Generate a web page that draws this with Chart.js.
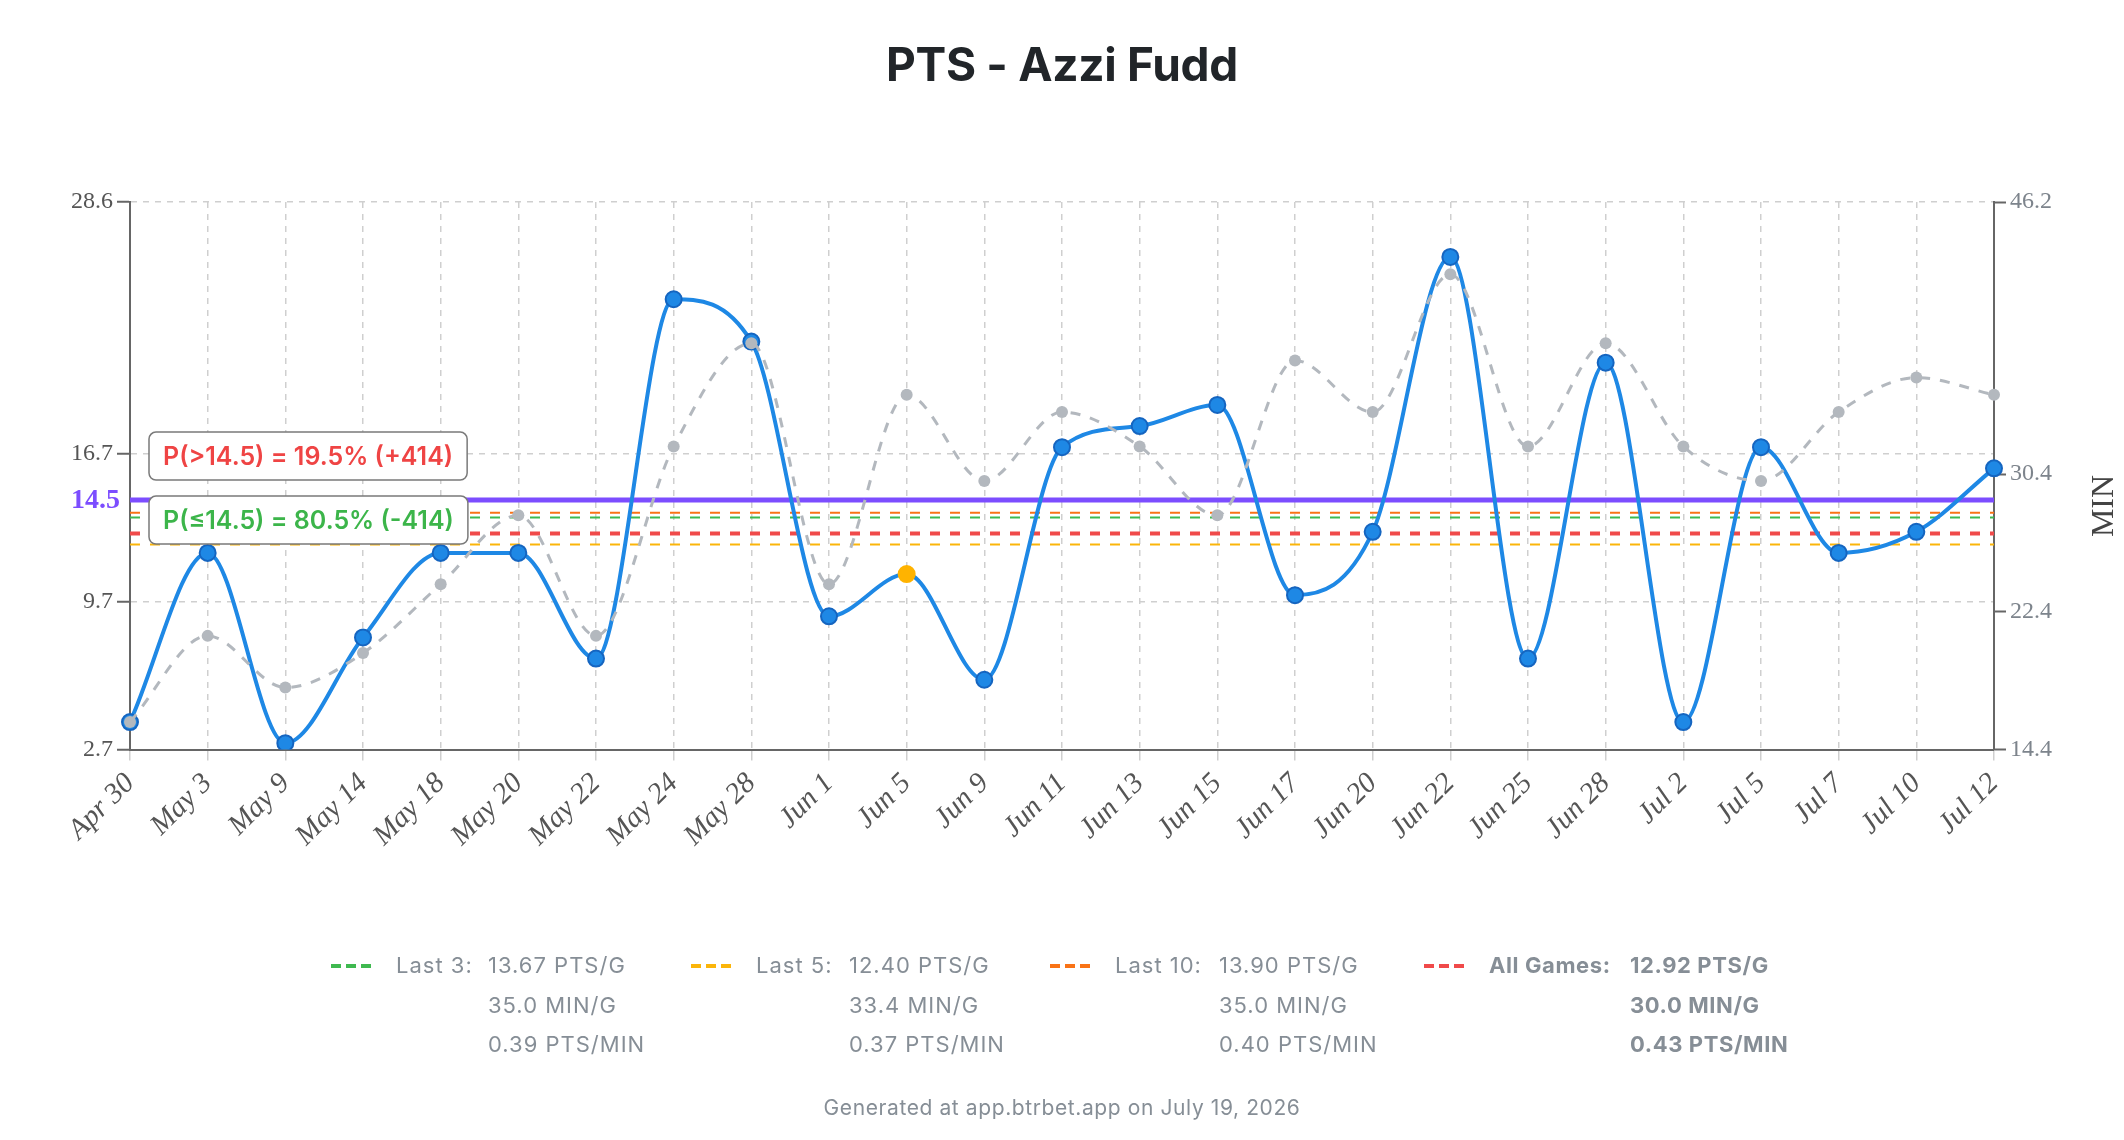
<!DOCTYPE html>
<html>
<head>
<meta charset="utf-8">
<script src="https://cdn.jsdelivr.net/npm/chart.js@4.4.1/dist/chart.umd.min.js"></script>
<style>
  html, body { margin: 0; padding: 0; background: #fff; }
  #wrap { position: relative; width: 2124px; height: 1140px; overflow: hidden; }
  #chart { position: absolute; left: 0; top: 0; }
  #title { position: absolute; left: 0; top: 35px; width: 2124px; text-align: center;
           font: 700 46px Inter, sans-serif; line-height: 58px; letter-spacing: -0.3px; color: #212529; }
  .col { position: absolute; top: 946px; height: 130px; width: 400px;
         font: 400 22px Inter, sans-serif; line-height: 39.5px; letter-spacing: 1px; color: #868e96; }
  .col.bold { font-weight: 700; letter-spacing: 0.6px; }
  .sw { position: absolute; left: 0; top: 18px; width: 40px; height: 4px; }
  .lab { position: absolute; left: 65px; top: 0; white-space: nowrap; }
  .vals { position: absolute; top: 0; white-space: nowrap; }
  #foot { position: absolute; left: 0; top: 1093px; width: 2124px; text-align: center;
          font: 400 21px Inter, sans-serif; line-height: 30px; letter-spacing: 0.6px; color: #868e96; }
</style>
</head>
<body>
<div id="wrap">
  <canvas id="chart" width="2124" height="1140"></canvas>
  <div id="title">PTS - Azzi Fudd</div>
  <div id="legend"></div>
  <div id="foot">Generated at app.btrbet.app on July 19, 2026</div>
</div>
<script>
// game dates
const labels = ["Apr 30", "May 3", "May 9", "May 14", "May 18", "May 20", "May 22", "May 24", "May 28",
  "Jun 1", "Jun 5", "Jun 9", "Jun 11", "Jun 13", "Jun 15", "Jun 17", "Jun 20", "Jun 22", "Jun 25",
  "Jun 28", "Jul 2", "Jul 5", "Jul 7", "Jul 10", "Jul 12"];
const pts = [4, 12, 3, 8, 12, 12, 7, 24, 22, 9, 11, 6, 17, 18, 19, 10, 13, 26, 7, 21, 4, 17, 12, 13, 16];
const mins = [16, 21, 18, 20, 24, 28, 21, 32, 38, 24, 35, 30, 34, 32, 28, 37, 34, 42, 32, 38, 32, 30, 34, 36, 35];
const highlighted = ["Jun 5"];

const propLine = 14.5;
const overProb = "19.5%", overOdds = "+414";
const underProb = "80.5%", underOdds = "-414";

const ptsTicks = [2.7, 9.7, 16.7, 28.6];
const minTicks = [14.4, 22.4, 30.4, 46.2];

// legend / average lines
const splitNames = ["Last 3:", "Last 5:", "Last 10:", "All Games:"];
const splitPts = [13.67, 12.40, 13.90, 12.92];
const splitMin = [35.0, 33.4, 35.0, 30.0];
const splitRate = [0.39, 0.37, 0.40, 0.43];
const splitColors = ["#3fb950", "#fbb50a", "#f97316", "#f04a4a"];

const BLUE = "#1e88e5", BLUE_DARK = "#1565c0", AMBER = "#ffb300";
const GRAY = "#b3b8be", PURPLE = "#7c4dff", GRID = "#cfcfcf", AXIS = "#666666";
const SERIF = "'Liberation Serif', 'Times New Roman', serif";
const SANS = "Inter, sans-serif";

// legend columns: swatch left and values left
const legendX = [331, 691, 1050, 1424];
const valuesX = [488, 849, 1219, 1630];
const legend = document.getElementById("legend");
splitNames.forEach((name, i) => {
  const col = document.createElement("div");
  col.className = "col" + (i === 3 ? " bold" : "");
  col.style.left = legendX[i] + "px";
  col.innerHTML =
    '<div class="sw" style="background: repeating-linear-gradient(to right, ' + splitColors[i] +
    ' 0 10px, transparent 10px 15px)"></div>' +
    '<div class="lab">' + name + '</div>' +
    '<div class="vals" style="left:' + (valuesX[i] - legendX[i]) + 'px"><div>' + splitPts[i].toFixed(2) +
    ' PTS/G</div><div>' + splitMin[i].toFixed(1) + ' MIN/G</div><div>' + splitRate[i].toFixed(2) +
    ' PTS/MIN</div></div>';
  legend.appendChild(col);
});

function roundRect(ctx, x, y, w, h, r) {
  ctx.beginPath();
  ctx.moveTo(x + r, y);
  ctx.arcTo(x + w, y, x + w, y + h, r);
  ctx.arcTo(x + w, y + h, x, y + h, r);
  ctx.arcTo(x, y + h, x, y, r);
  ctx.arcTo(x, y, x + w, y, r);
  ctx.closePath();
}

const overlay = {
  id: "overlay",
  afterDatasetsDraw(chart) {
    const { ctx, chartArea, scales } = chart;
    const yLine = scales.y.getPixelForValue(propLine);
    ctx.save();
    // line value on the left axis
    ctx.font = "bold 28px " + SERIF;
    ctx.fillStyle = PURPLE;
    ctx.textAlign = "right";
    ctx.textBaseline = "middle";
    ctx.fillText(propLine.toFixed(1), chartArea.left - 10, yLine + 1);

    // probability boxes
    const boxes = [
      { text: "P(>" + propLine + ") = " + overProb + " (" + overOdds + ")", color: "#ef4444", top: yLine - 68 },
      { text: "P(\u2264" + propLine + ") = " + underProb + " (" + underOdds + ")", color: "#3cb54a", top: yLine - 4 }
    ];
    ctx.font = "600 25px " + SANS;
    boxes.forEach(b => {
      const w = ctx.measureText(b.text).width + 28;
      const x = chartArea.left + 19;
      roundRect(ctx, x, b.top, w, 48, 7);
      ctx.fillStyle = "#fff";
      ctx.fill();
      ctx.lineWidth = 1.5;
      ctx.strokeStyle = "#7a7a7a";
      ctx.stroke();
      ctx.fillStyle = b.color;
      ctx.textAlign = "center";
      ctx.fillText(b.text, x + w / 2, b.top + 25);
    });

    // right axis title
    ctx.translate(2105, 506);
    ctx.rotate(-Math.PI / 2);
    ctx.font = "32px " + SERIF;
    ctx.fillStyle = "#444";
    ctx.textAlign = "center";
    ctx.fillText("MIN", 0, 0);
    ctx.restore();
  }
};

const avgSets = splitPts.map((v, i) => ({
  label: splitNames[i],
  data: labels.map(() => v),
  yAxisID: "y",
  borderColor: splitColors[i],
  borderWidth: i === 3 ? 4 : 2,
  borderDash: [10, 10],
  pointRadius: 0,
  order: 5 + i
}));

new Chart(document.getElementById("chart"), {
  type: "line",
  data: {
    labels: labels,
    datasets: [
      {
        label: "MIN",
        data: mins,
        yAxisID: "y1",
        borderColor: GRAY,
        borderWidth: 3,
        borderDash: [10, 10],
        cubicInterpolationMode: "monotone",
        pointRadius: 6,
        pointBackgroundColor: GRAY,
        pointBorderWidth: 0,
        order: 1
      },
      {
        label: "PTS",
        data: pts,
        yAxisID: "y",
        borderColor: BLUE,
        borderWidth: 4,
        cubicInterpolationMode: "monotone",
        pointRadius: 8,
        pointBackgroundColor: labels.map(l => highlighted.includes(l) ? AMBER : BLUE),
        pointBorderColor: labels.map(l => highlighted.includes(l) ? AMBER : BLUE_DARK),
        pointBorderWidth: 2,
        order: 2
      },
      {
        label: "Line",
        data: labels.map(() => propLine),
        yAxisID: "y",
        borderColor: PURPLE,
        borderWidth: 5,
        pointRadius: 0,
        order: 3
      },
      ...avgSets
    ]
  },
  options: {
    responsive: false,
    animation: false,
    layout: { padding: { top: 202, left: 0, right: 0, bottom: 0 } },
    plugins: { legend: { display: false }, tooltip: { enabled: false }, title: { display: false } },
    scales: {
      x: {
        offset: false,
        grid: { color: GRID, lineWidth: 1.5, tickLength: 11, tickColor: GRID, tickBorderDash: [], tickWidth: 1.5 },
        border: { color: AXIS, width: 2, dash: [6, 6] },
        ticks: {
          color: "#555", autoSkip: false, minRotation: 45, maxRotation: 45, padding: 6,
          font: { family: SERIF, size: 29, style: "italic" }
        },
        afterFit: s => { s.height = 390.5; }
      },
      y: {
        position: "left",
        min: 2.7,
        max: 28.6,
        afterBuildTicks: s => { s.ticks = ptsTicks.map(v => ({ value: v })); },
        ticks: { callback: v => v.toFixed(1), color: "#555", padding: 4, font: { family: SERIF, size: 24 } },
        grid: { color: GRID, lineWidth: 1.5, tickLength: 13, tickColor: AXIS, tickBorderDash: [], tickWidth: 2 },
        border: { color: AXIS, width: 2, dash: [6, 6] },
        afterFit: s => { s.width = 130; }
      },
      y1: {
        position: "right",
        min: 14.4,
        max: 46.2,
        afterBuildTicks: s => { s.ticks = minTicks.map(v => ({ value: v })); },
        ticks: { callback: v => v.toFixed(1), color: "#7d848c", padding: 4, font: { family: SERIF, size: 24 } },
        grid: { drawOnChartArea: false, tickLength: 12, tickColor: AXIS, tickWidth: 2 },
        border: { color: AXIS, width: 2 },
        afterFit: s => { s.width = 130; }
      }
    }
  },
  plugins: [overlay]
});
</script>
</body>
</html>
